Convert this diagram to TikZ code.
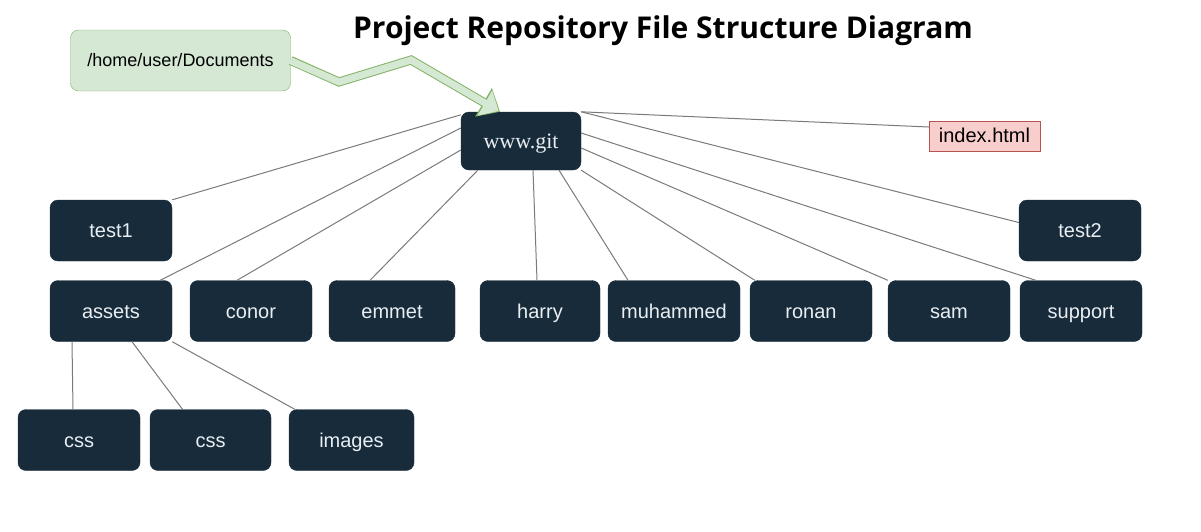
\documentclass[tikz,border=0pt]{standalone}
\usepackage{fontspec}
\setmainfont{Liberation Sans}
\newfontfamily\titlefont{Open Sans}
\newfontfamily\gitfont{Liberation Serif}
\usetikzlibrary{arrows.meta}
\definecolor{navy}{HTML}{182B3B}
\definecolor{paletext}{HTML}{E8EEF2}
\definecolor{docsfill}{HTML}{D5E8D4}
\definecolor{docsedge}{HTML}{82B366}
\definecolor{htmlfill}{HTML}{F8CECC}
\definecolor{htmledge}{HTML}{B85450}
\definecolor{linkgray}{HTML}{7A7A7A}

\begin{document}
\begin{tikzpicture}[x=1pt, y=-1pt,
	folder node/.style={rectangle, rounded corners=8pt, fill=navy, draw=navy, text=paletext, inner sep=0pt, minimum width=122pt, minimum height=61pt, text height=16pt, text depth=2pt, font=\fontsize{20}{24}\selectfont},
	docs node/.style={rectangle, rounded corners=8pt, fill=docsfill, draw=docsedge, inner sep=0pt, minimum width=220pt, minimum height=61pt, font=\fontsize{18}{22}\selectfont},
	file node/.style={rectangle, fill=htmlfill, draw=htmledge, inner sep=0pt, minimum width=111pt, minimum height=30pt, text height=15pt, text depth=3pt, font=\fontsize{20}{24}\selectfont},
	link/.style={draw=linkgray, line width=1pt, double=white!85!gray, double distance=0.6pt}]
	\useasboundingbox (0,0) rectangle (1201,531);
	\node[font=\titlefont\bfseries\fontsize{30}{36}\selectfont] (title) at (663,31) {Project Repository File Structure Diagram};
	\node[docs node] (docs) at (180.5,60.5) {/home/user/Documents};
	\node[folder node, minimum width=120pt, minimum height=58pt, font=\gitfont\fontsize{22}{26}\selectfont] (git) at (521,141) {www.git};
	\node[file node] (index) at (984.5,136) {index.html};
	\node[folder node] (test1) at (111,230.5) {test1};
	\node[folder node] (test2) at (1080,230.5) {test2};
	\node[folder node] (assets) at (111,311) {assets};
	\node[folder node] (conor) at (251,311) {conor};
	\node[folder node, minimum width=126pt] (emmet) at (392,311) {emmet};
	\node[folder node, minimum width=120pt] (harry) at (540,311) {harry};
	\node[folder node, minimum width=132pt] (muhammed) at (674,311) {muhammed};
	\node[folder node] (ronan) at (811,311) {ronan};
	\node[folder node] (sam) at (949,311) {sam};
	\node[folder node] (support) at (1081,311) {support};
	\node[folder node] (css1) at (79,440) {css};
	\node[folder node, minimum width=121pt] (css2) at (210.5,440) {css};
	\node[folder node, minimum width=125pt] (images) at (351.5,440) {images};
	% fat arrow into the repository
	\coordinate (bend1) at (339,82);
	\coordinate (bend2) at (411,60);
	\draw[line width=9pt, draw=docsedge, miter limit=4, -{Triangle[length=19pt, width=32pt]}] (docs.east) -- (bend1) -- (bend2) -- ([xshift=-21pt]git.north);
	\draw[line width=7pt, draw=docsfill, miter limit=4, shorten >=1.5pt, -{Triangle[length=16pt, width=28pt]}] ([xshift=-0.5pt]docs.east) -- (bend1) -- (bend2) -- ([xshift=-21pt]git.north);
	\path[link]
		([yshift=-3pt]git.north west) edge (test1.north east)
		([yshift=13pt]git.west) edge ([xshift=-12pt]assets.north east)
		([yshift=-9pt]git.west) edge ([xshift=-14pt]conor.north)
		([xshift=17pt]git.south west) edge ([xshift=-22pt]emmet.north)
		([xshift=12pt]git.south) edge ([xshift=-3pt]harry.north)
		([xshift=38pt]git.south) edge ([xshift=-46pt]muhammed.north)
		(git.south east) edge ([xshift=5pt]ronan.north west)
		([yshift=-7pt]git.east) edge (sam.north west)
		([yshift=8pt]git.east) edge ([xshift=16pt]support.north west)
		(git.north east) edge ([yshift=8pt]test2.west)
		(git.north east) edge ([yshift=9pt]index.west)
		([xshift=-39pt]assets.south) edge ([xshift=-6pt]css1.north)
		([xshift=21pt]assets.south) edge ([xshift=-28pt]css2.north)
		(assets.south east) edge ([xshift=6pt]images.north west);
\end{tikzpicture}
\end{document}
